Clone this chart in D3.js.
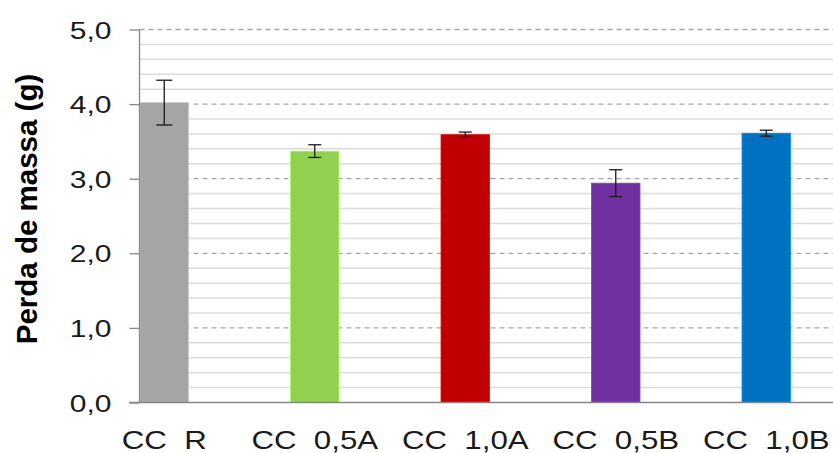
<!DOCTYPE html>
<html>
<head>
<meta charset="utf-8">
<script src="https://cdn.jsdelivr.net/npm/d3@7"></script>
<style>
  html, body { margin: 0; padding: 0; background: #fff; }
  svg { display: block; }
  text { font-family: "Liberation Sans", Arial, sans-serif; white-space: pre; }
</style>
</head>
<body>
<div id="chart"></div>
<script>
// Mass loss per formulation, with standard deviation
const categories = ["CC  R", "CC  0,5A", "CC  1,0A", "CC  0,5B", "CC  1,0B"];
const values = [4.02, 3.37, 3.59, 2.94, 3.61];
const errors = [0.30, 0.085, 0.035, 0.18, 0.04];
const colors = ["#a5a5a5", "#92d050", "#c00000", "#7030a0", "#0070c0"];
const yTicks = [0, 1, 2, 3, 4, 5];
const yTickLabels = ["0,0", "1,0", "2,0", "3,0", "4,0", "5,0"];
const yLabel = "Perda de massa (g)";

const W = 833, H = 453;
const axisX = 139.5, plotRight = 833;
const yTop = 29.5, yBottom = 402.5;

const svg = d3.select("#chart").append("svg")
  .attr("width", W).attr("height", H);

const y = d3.scaleLinear().domain([0, 5]).range([yBottom, yTop]);
const x = d3.scaleBand().domain(categories)
  .range([89, 841.5]).paddingInner(0.678).paddingOuter(0.339);

// minor gridlines every 0.2
const minor = d3.range(1, 25).map(i => i * 0.2).filter(v => Math.abs(v - Math.round(v)) > 1e-6);
svg.append("g").selectAll("line").data(minor).join("line")
  .attr("x1", axisX).attr("x2", plotRight)
  .attr("y1", d => y(d)).attr("y2", d => y(d))
  .attr("stroke", "#dcdcdc").attr("stroke-width", 1.5);

// major dashed gridlines
svg.append("g").selectAll("line").data(yTicks.filter(d => d > 0)).join("line")
  .attr("x1", axisX).attr("x2", plotRight)
  .attr("y1", d => y(d)).attr("y2", d => y(d))
  .attr("stroke", "#a6a6a6").attr("stroke-width", 1.3)
  .attr("stroke-dasharray", "5,4");

// bars
svg.append("g").selectAll("rect").data(categories).join("rect")
  .attr("x", d => x(d))
  .attr("width", x.bandwidth())
  .attr("y", (d, i) => y(values[i]))
  .attr("height", (d, i) => y(0) - y(values[i]))
  .attr("fill", (d, i) => colors[i])
  .attr("stroke", (d, i) => d3.color(colors[i]).brighter(0.6))
  .attr("stroke-width", 0.8);

// error bars
const eg = svg.append("g").attr("stroke", "#1a1a1a").attr("stroke-width", 1.3);
categories.forEach((c, i) => {
  const cx = x(c) + x.bandwidth() / 2;
  const hi = y(values[i] + errors[i]), lo = y(values[i] - errors[i]);
  const cap = i === 0 ? 8 : 6.5;
  eg.append("line").attr("x1", cx).attr("x2", cx).attr("y1", hi).attr("y2", lo);
  eg.append("line").attr("x1", cx - cap).attr("x2", cx + cap).attr("y1", hi).attr("y2", hi);
  eg.append("line").attr("x1", cx - cap).attr("x2", cx + cap).attr("y1", lo).attr("y2", lo);
});

// y axis
const yAxis = d3.axisLeft(y).tickValues(yTicks).tickSize(10).tickPadding(0)
  .tickFormat((d, i) => yTickLabels[i]);
const ya = svg.append("g").attr("transform", `translate(${axisX},0)`).call(yAxis);
ya.select(".domain").attr("stroke", "#868686").attr("stroke-width", 1.3).attr("d", `M0,${yTop}V${yBottom}`);
ya.selectAll(".tick line").attr("stroke", "#868686").attr("stroke-width", 1.3);
ya.selectAll(".tick text")
  .attr("x", null).attr("dy", null)
  .attr("font-size", 24).attr("fill", "#1a1a1a")
  .attr("text-anchor", "end")
  .attr("transform", "translate(-28,8.5) scale(1.25,1)");

// baseline
svg.append("line").attr("x1", 129).attr("x2", plotRight)
  .attr("y1", yBottom).attr("y2", yBottom)
  .attr("stroke", "#868686").attr("stroke-width", 1.3);

// x axis labels
const xAxis = d3.axisBottom(x).tickSize(0).tickPadding(0);
const xa = svg.append("g").attr("transform", `translate(0,${yBottom})`).call(xAxis);
xa.select(".domain").remove();
xa.selectAll(".tick text")
  .attr("y", null).attr("dy", null)
  .attr("font-size", 25).attr("fill", "#1a1a1a")
  .attr("text-anchor", "middle")
  .attr("transform", "translate(0,46) scale(1.25,1)");

// y axis title
svg.append("text")
  .attr("transform", "translate(37,209) rotate(-90)")
  .attr("text-anchor", "middle")
  .attr("font-size", 29.5).attr("font-weight", "bold").attr("fill", "#000")
  .text(yLabel);
</script>
</body>
</html>
